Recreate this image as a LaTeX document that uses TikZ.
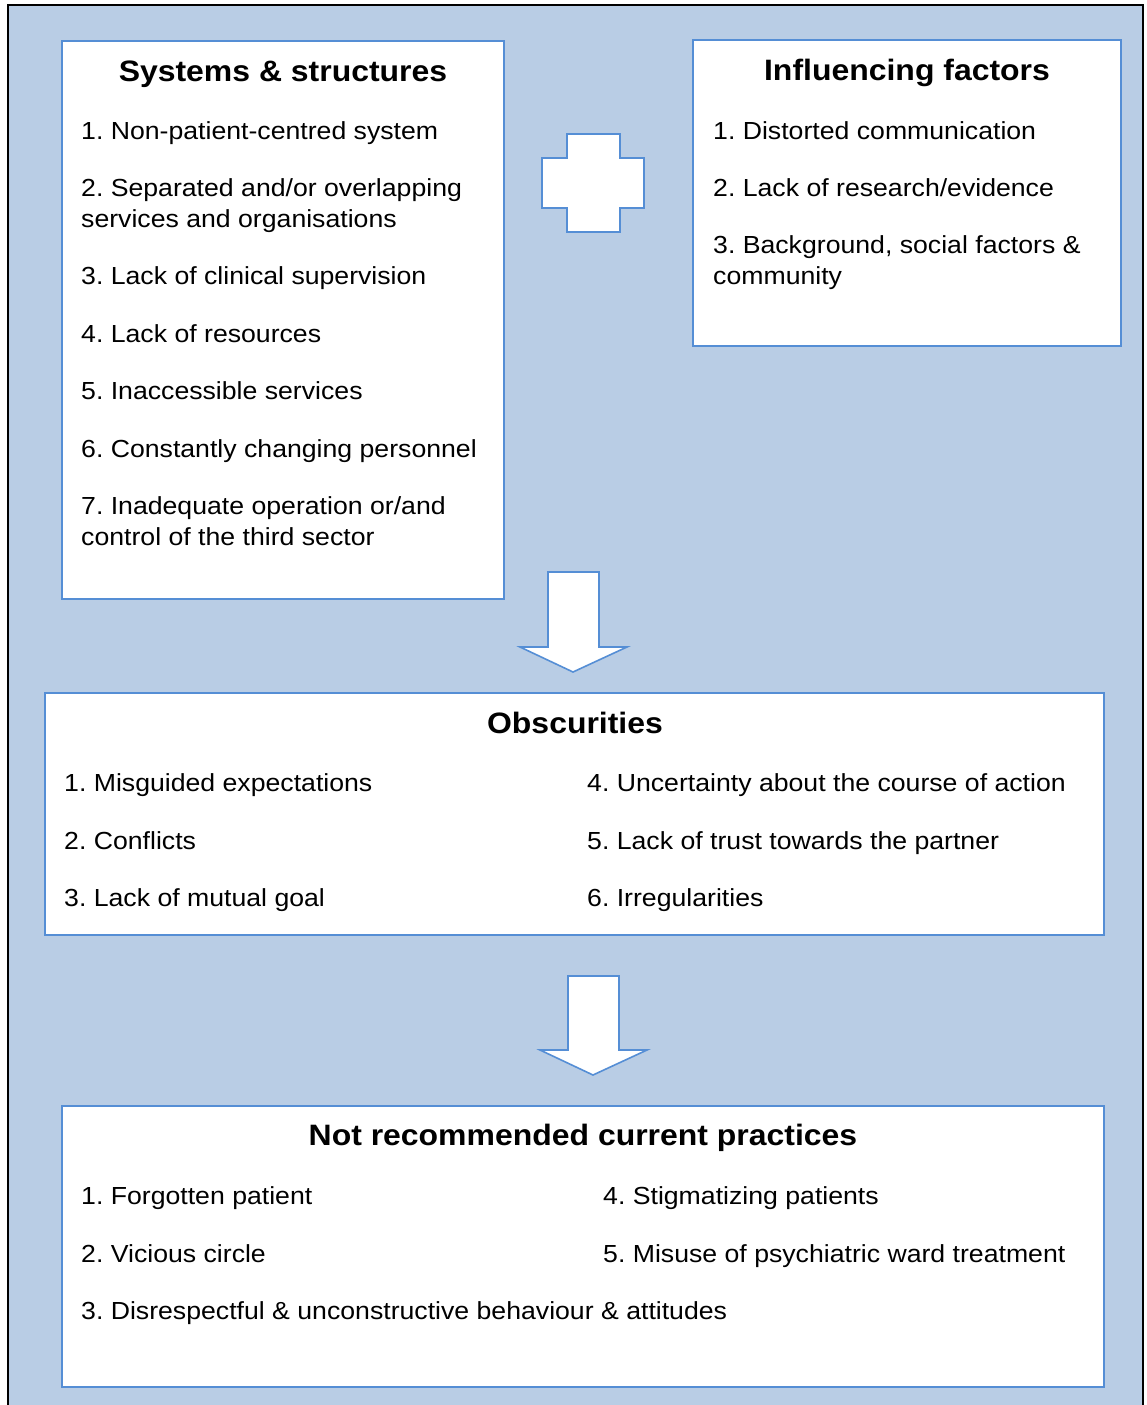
\documentclass[tikz,border=0pt]{standalone}
\usepackage{fontspec}
\setmainfont{Liberation Sans}
\usepackage{graphicx}
\definecolor{bgblue}{HTML}{B9CDE5}
\definecolor{lineblue}{HTML}{558ED5}
\newcommand\hsx[1]{\scalebox{1.079}[1]{#1}}
\newcommand\hst[1]{\scalebox{1.083}[1]{#1}}
\frenchspacing
\begin{document}
\begin{tikzpicture}[x=1pt,y=-1pt,
  panel/.style={draw=lineblue,line width=2pt,fill=white,anchor=north west,inner sep=0pt,outer sep=0pt},
  itm/.style={anchor=base west,inner sep=0pt,font=\fontsize{24.7}{29}\selectfont},
  ttl/.style={anchor=base,inner sep=0pt,font=\fontsize{29.5}{34}\selectfont\bfseries},
  blk/.style={draw=lineblue,line width=1.6pt,fill=white,line join=miter}]
\useasboundingbox (0,0) rectangle (1146,1405);
\fill[bgblue] (8,5) rectangle (1143,1405);
\draw[line width=2pt] (8,1405) -- (8,5) -- (1143,5) -- (1143,1405);

% panels
\node[panel,minimum width=442pt,minimum height=558pt] (sys) at (62,41) {};
\node[panel,minimum width=428pt,minimum height=306pt] (inf) at (693,40) {};
\node[panel,minimum width=1059pt,minimum height=242pt] (obs) at (45,693) {};
\node[panel,minimum width=1042pt,minimum height=281pt] (nrp) at (62,1106) {};

% plus sign
\draw[blk,line width=2pt] (567,134) -- (620,134) -- (620,158) -- (644,158) -- (644,208) -- (620,208)
  -- (620,232) -- (567,232) -- (567,208) -- (542,208) -- (542,158) -- (567,158) -- cycle;

% block arrows
\draw[blk] (548,572) -- (599,572) -- (599,647) -- (627,647) -- (573,672) -- (520,647) -- (548,647) -- cycle;
\draw[blk] (568,976) -- (619,976) -- (619,1050) -- (647,1050) -- (593,1075) -- (540,1050) -- (568,1050) -- cycle;

% Systems & structures
\node[ttl] (sysT) at (283,81.7) {\hst{Systems \& structures}};
\node[itm] (s1) at (81,139.3) {\hsx{1. Non-patient-centred system}};
\node[itm] (s2a) at (81,196.7) {\hsx{2. Separated and/or overlapping}};
\node[itm] (s2b) at (81,227.5) {\hsx{services and organisations}};
\node[itm] (s3) at (81,284.5) {\hsx{3. Lack of clinical supervision}};
\node[itm] (s4) at (81,342.5) {\hsx{4. Lack of resources}};
\node[itm] (s5) at (81,399.5) {\hsx{5. Inaccessible services}};
\node[itm] (s6) at (81,457.5) {\hsx{6. Constantly changing personnel}};
\node[itm] (s7a) at (81,514.5) {\hsx{7. Inadequate operation or/and}};
\node[itm] (s7b) at (81,545.5) {\hsx{control of the third sector}};

% Influencing factors
\node[ttl] (infT) at (907,81) {\hst{Influencing factors}};
\node[itm] (i1) at (713,139.3) {\hsx{1. Distorted communication}};
\node[itm] (i2) at (713,196.7) {\hsx{2. Lack of research/evidence}};
\node[itm] (i3a) at (713,253.5) {\hsx{3. Background, social factors \&}};
\node[itm] (i3b) at (713,284.5) {\hsx{community}};

% Obscurities
\node[ttl] (obsT) at (575,733.5) {\hst{Obscurities}};
\node[itm] (o1) at (64,791.7) {\hsx{1. Misguided expectations}};
\node[itm] (o2) at (64,849.2) {\hsx{2. Conflicts}};
\node[itm] (o3) at (64,906.7) {\hsx{3. Lack of mutual goal}};
\node[itm] (o4) at (587,791.7) {\hsx{4. Uncertainty about the course of action}};
\node[itm] (o5) at (587,849.2) {\hsx{5. Lack of trust towards the partner}};
\node[itm] (o6) at (587,906.7) {\hsx{6. Irregularities}};

% Not recommended current practices
\node[ttl] (nrpT) at (583,1145.5) {\hst{Not recommended current practices}};
\node[itm] (n1) at (81,1204.7) {\hsx{1. Forgotten patient}};
\node[itm] (n2) at (81,1262.2) {\hsx{2. Vicious circle}};
\node[itm] (n3) at (81,1319.7) {\hsx{3. Disrespectful \& unconstructive behaviour \& attitudes}};
\node[itm] (n4) at (603,1204.7) {\hsx{4. Stigmatizing patients}};
\node[itm] (n5) at (603,1262.2) {\hsx{5. Misuse of psychiatric ward treatment}};
\end{tikzpicture}
\end{document}
